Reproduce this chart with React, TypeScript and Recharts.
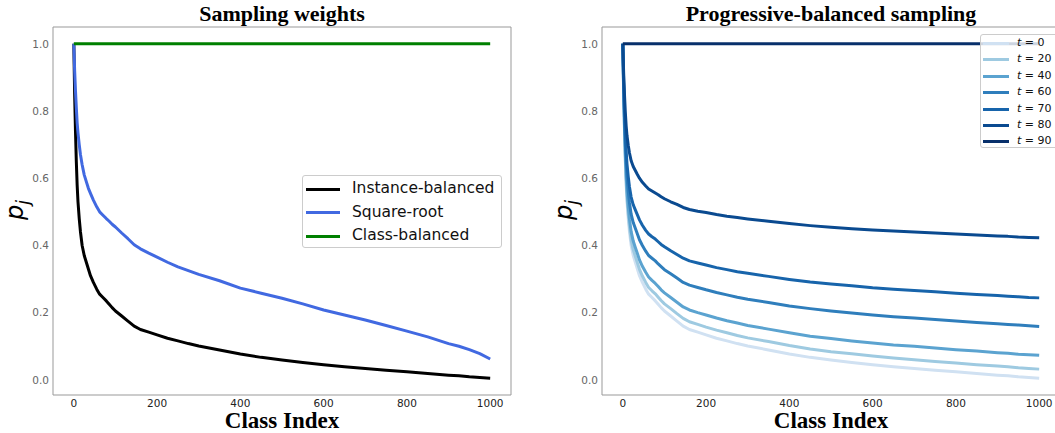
import React from 'react';
import { LineChart, Line, XAxis, YAxis, ReferenceArea } from 'recharts';

// class index samples (classes sorted by frequency)
const classIdx = [0, 2, 4, 6, 8, 10, 13, 16, 20, 25, 30, 35, 40, 47, 55, 62, 70, 78, 85, 92, 100, 115, 130, 145, 160, 180, 200, 225, 250, 275, 300, 350, 400, 450, 500, 550, 600, 650, 700, 750, 800, 850, 900, 925, 950, 975, 1000];

// left panel: sampling weights
const instanceBalanced = [1.0, 0.85, 0.74, 0.65, 0.58, 0.53, 0.48, 0.44, 0.4, 0.37, 0.35, 0.33, 0.31, 0.29, 0.27, 0.255, 0.245, 0.235, 0.225, 0.215, 0.205, 0.19, 0.175, 0.16, 0.15, 0.142, 0.134, 0.124, 0.116, 0.108, 0.101, 0.089, 0.077, 0.067, 0.059, 0.052, 0.045, 0.039, 0.034, 0.029, 0.024, 0.019, 0.014, 0.012, 0.009, 0.007, 0.005];
const squareRoot = [1.0, 0.92, 0.86, 0.81, 0.765, 0.735, 0.7, 0.67, 0.64, 0.61, 0.59, 0.57, 0.555, 0.535, 0.515, 0.5, 0.49, 0.48, 0.472, 0.463, 0.455, 0.437, 0.42, 0.402, 0.39, 0.377, 0.365, 0.35, 0.336, 0.325, 0.314, 0.295, 0.273, 0.258, 0.243, 0.226, 0.208, 0.193, 0.178, 0.162, 0.145, 0.128, 0.108, 0.1, 0.09, 0.078, 0.062];
const classBalanced = [1.0, 1.0, 1.0, 1.0, 1.0, 1.0, 1.0, 1.0, 1.0, 1.0, 1.0, 1.0, 1.0, 1.0, 1.0, 1.0, 1.0, 1.0, 1.0, 1.0, 1.0, 1.0, 1.0, 1.0, 1.0, 1.0, 1.0, 1.0, 1.0, 1.0, 1.0, 1.0, 1.0, 1.0, 1.0, 1.0, 1.0, 1.0, 1.0, 1.0, 1.0, 1.0, 1.0, 1.0, 1.0, 1.0, 1.0];

// right panel: progressive-balanced sampling at epoch t
const pbT0 = [1.0, 0.85, 0.74, 0.65, 0.58, 0.53, 0.48, 0.44, 0.4, 0.37, 0.35, 0.33, 0.31, 0.29, 0.27, 0.255, 0.245, 0.235, 0.225, 0.215, 0.205, 0.19, 0.175, 0.16, 0.15, 0.142, 0.134, 0.124, 0.116, 0.108, 0.101, 0.089, 0.077, 0.067, 0.059, 0.052, 0.045, 0.039, 0.034, 0.029, 0.024, 0.019, 0.014, 0.012, 0.009, 0.007, 0.005];
const pbT20 = [1.0, 0.854, 0.747, 0.659, 0.591, 0.543, 0.494, 0.455, 0.416, 0.387, 0.368, 0.348, 0.329, 0.309, 0.29, 0.275, 0.265, 0.256, 0.246, 0.236, 0.226, 0.212, 0.197, 0.183, 0.173, 0.165, 0.157, 0.148, 0.14, 0.132, 0.125, 0.114, 0.102, 0.092, 0.084, 0.078, 0.071, 0.065, 0.06, 0.055, 0.05, 0.045, 0.041, 0.039, 0.036, 0.034, 0.032];
const pbT40 = [1.0, 0.86, 0.758, 0.674, 0.609, 0.562, 0.515, 0.478, 0.441, 0.413, 0.394, 0.376, 0.357, 0.338, 0.32, 0.306, 0.296, 0.287, 0.278, 0.268, 0.259, 0.245, 0.231, 0.217, 0.208, 0.2, 0.193, 0.184, 0.176, 0.169, 0.162, 0.151, 0.14, 0.13, 0.123, 0.116, 0.11, 0.104, 0.1, 0.095, 0.09, 0.086, 0.081, 0.079, 0.076, 0.075, 0.073];
const pbT60 = [1.0, 0.873, 0.78, 0.704, 0.645, 0.603, 0.561, 0.527, 0.493, 0.468, 0.451, 0.434, 0.417, 0.4, 0.383, 0.37, 0.362, 0.354, 0.345, 0.337, 0.328, 0.316, 0.303, 0.29, 0.282, 0.275, 0.268, 0.26, 0.253, 0.246, 0.24, 0.23, 0.22, 0.212, 0.205, 0.199, 0.193, 0.188, 0.184, 0.18, 0.175, 0.171, 0.167, 0.165, 0.163, 0.161, 0.159];
const pbT70 = [1.0, 0.886, 0.802, 0.734, 0.681, 0.643, 0.605, 0.574, 0.544, 0.521, 0.506, 0.491, 0.476, 0.46, 0.445, 0.434, 0.426, 0.419, 0.411, 0.403, 0.396, 0.384, 0.373, 0.362, 0.354, 0.348, 0.342, 0.334, 0.328, 0.322, 0.317, 0.308, 0.299, 0.291, 0.285, 0.28, 0.274, 0.27, 0.266, 0.262, 0.258, 0.254, 0.251, 0.249, 0.247, 0.245, 0.244];
const pbT80 = [1.0, 0.913, 0.849, 0.797, 0.756, 0.727, 0.698, 0.675, 0.652, 0.635, 0.623, 0.611, 0.6, 0.588, 0.577, 0.568, 0.562, 0.556, 0.551, 0.545, 0.539, 0.53, 0.522, 0.513, 0.507, 0.502, 0.498, 0.492, 0.487, 0.483, 0.479, 0.472, 0.465, 0.459, 0.454, 0.45, 0.446, 0.443, 0.44, 0.437, 0.434, 0.431, 0.428, 0.427, 0.425, 0.424, 0.423];
const pbT90 = [1.0, 1.0, 1.0, 1.0, 1.0, 1.0, 1.0, 1.0, 1.0, 1.0, 1.0, 1.0, 1.0, 1.0, 1.0, 1.0, 1.0, 1.0, 1.0, 1.0, 1.0, 1.0, 1.0, 1.0, 1.0, 1.0, 1.0, 1.0, 1.0, 1.0, 1.0, 1.0, 1.0, 1.0, 1.0, 1.0, 1.0, 1.0, 1.0, 1.0, 1.0, 1.0, 1.0, 1.0, 1.0, 1.0, 1.0];

const epochs = ['0', '20', '40', '60', '70', '80', '90'];
const epochSeries = [pbT0, pbT20, pbT40, pbT60, pbT70, pbT80, pbT90];
const epochColors = ['#d0e1f2', '#9ecae1', '#5ba3d0', '#2f7ebc', '#1764ab', '#0a4a90', '#08306b'];

const leftNames = ['Instance-balanced', 'Square-root', 'Class-balanced'];
const leftColors = ['#000000', '#4169e1', '#008000'];

const xTicks = [0, 200, 400, 600, 800, 1000];
const yTicks = [0, 0.2, 0.4, 0.6, 0.8, 1.0];

const leftData = classIdx.map((x, i) => ({
  idx: x,
  ib: instanceBalanced[i],
  sr: squareRoot[i],
  cb: classBalanced[i],
}));

const rightData = classIdx.map((x, i) => {
  const row: any = { idx: x };
  epochs.forEach((t, k) => {
    row['t' + t] = epochSeries[k][i];
  });
  return row;
});

const X_DOMAIN = [-50, 1050];
const Y_DOMAIN = [-0.045, 1.05];
const FRAME = '#999';

const serif = '"Liberation Serif", "Times New Roman", serif';
const sans = '"DejaVu Sans", sans-serif';

const Axes = () => (
  <>
    <XAxis
      dataKey="idx"
      type="number"
      domain={X_DOMAIN}
      ticks={xTicks}
      allowDataOverflow
      axisLine={false}
      tickLine={false}
      tickSize={3}
      tickMargin={2}
      height={30}
      tick={{ fill: '#222', fontSize: 10.5, fontFamily: sans }}
    />
    <YAxis
      type="number"
      domain={Y_DOMAIN}
      ticks={yTicks}
      allowDataOverflow
      axisLine={false}
      tickLine={false}
      tickSize={2}
      tickMargin={2}
      width={53}
      tickFormatter={(v: number) => v.toFixed(1)}
      tick={{ fill: '#666', fontSize: 10.5, fontFamily: sans }}
    />
  </>
);

const Title = ({ left, width, text }: { left: number; width: number; text: string }) => (
  <div
    style={{
      position: 'absolute', left, top: 1, width, textAlign: 'center',
      fontFamily: serif, fontWeight: 'bold', fontSize: 22, lineHeight: '26px', color: '#000',
    }}
  >
    {text}
  </div>
);

const XLabel = ({ left, width }: { left: number; width: number }) => (
  <div
    style={{
      position: 'absolute', left, top: 408, width, textAlign: 'center',
      fontFamily: serif, fontWeight: 'bold', fontSize: 23, lineHeight: '26px', color: '#000',
    }}
  >
    Class Index
  </div>
);

const YLabel = ({ x }: { x: number }) => (
  <div
    style={{
      position: 'absolute', left: x, top: 210, transform: 'translate(-50%, -50%) rotate(-90deg)',
      fontFamily: sans, fontStyle: 'italic', fontSize: 24, whiteSpace: 'nowrap', color: '#000',
    }}
  >
    p<sub style={{ fontSize: 17, verticalAlign: '-0.3em' }}>j</sub>
  </div>
);

export default function App() {
  return (
    <div style={{ position: 'absolute', left: 0, top: 0, width: 1055, height: 433, overflow: 'hidden', background: '#fff' }}>
      {/* left panel */}
      <div style={{ position: 'absolute', left: 0, top: 0 }}>
        <LineChart width={520} height={433} data={leftData} margin={{ top: 27, right: 9, bottom: 8, left: 0 }}>
          {Axes()}
          <ReferenceArea x1={X_DOMAIN[0]} x2={X_DOMAIN[1]} y1={Y_DOMAIN[0]} y2={Y_DOMAIN[1]} fill="none" stroke={FRAME} strokeWidth={1} ifOverflow="visible" />
          <Line dataKey="ib" type="linear" stroke={leftColors[0]} strokeWidth={3} dot={false} isAnimationActive={false} strokeLinejoin="round" />
          <Line dataKey="sr" type="linear" stroke={leftColors[1]} strokeWidth={3} dot={false} isAnimationActive={false} strokeLinejoin="round" />
          <Line dataKey="cb" type="linear" stroke={leftColors[2]} strokeWidth={3} dot={false} isAnimationActive={false} strokeLinejoin="round" />
        </LineChart>
      </div>

      {/* right panel */}
      <div style={{ position: 'absolute', left: 549, top: 0 }}>
        <LineChart width={520} height={433} data={rightData} margin={{ top: 27, right: 9, bottom: 8, left: 0 }}>
          {Axes()}
          <ReferenceArea x1={X_DOMAIN[0]} x2={X_DOMAIN[1]} y1={Y_DOMAIN[0]} y2={Y_DOMAIN[1]} fill="none" stroke={FRAME} strokeWidth={1} ifOverflow="visible" />
          {epochs.map((t, k) => (
            <Line
              key={t}
              dataKey={'t' + t}
              type="linear"
              stroke={epochColors[k]}
              strokeWidth={3}
              dot={false}
              isAnimationActive={false}
              strokeLinejoin="round"
            />
          ))}
        </LineChart>
      </div>

      <Title left={53} width={458} text="Sampling weights" />
      <Title left={602} width={458} text="Progressive-balanced sampling" />
      <XLabel left={53} width={458} />
      <XLabel left={602} width={458} />
      <YLabel x={17} />
      <YLabel x={566} />

      {/* left legend */}
      <div
        style={{
          position: 'absolute', left: 302, top: 175, width: 200, height: 73, boxSizing: 'border-box',
          border: '1px solid #ccc', borderRadius: 3, background: 'rgba(255,255,255,0.8)', paddingTop: 1,
        }}
      >
        {leftNames.map((name, i) => (
          <div key={name} style={{ position: 'relative', height: 23.5 }}>
            <div style={{ position: 'absolute', left: 3, top: 10.5, width: 34, height: 3, background: leftColors[i] }} />
            <div style={{ position: 'absolute', left: 49, top: 0, lineHeight: '23.5px', fontFamily: sans, fontSize: 15.5, color: '#111', whiteSpace: 'nowrap' }}>
              {name}
            </div>
          </div>
        ))}
      </div>

      {/* right legend */}
      <div
        style={{
          position: 'absolute', left: 980, top: 34, width: 90, height: 114, boxSizing: 'border-box',
          border: '1px solid #ccc', borderRadius: 3, background: 'rgba(255,255,255,0.8)', paddingTop: 0,
        }}
      >
        {epochs.map((t, i) => (
          <div key={t} style={{ position: 'relative', height: 16.4 }}>
            <div style={{ position: 'absolute', left: 2, top: 7, width: 26, height: 3, background: epochColors[i] }} />
            <div style={{ position: 'absolute', left: 36, top: 0, lineHeight: '16.4px', fontFamily: sans, fontSize: 11, color: '#111', whiteSpace: 'nowrap' }}>
              <i>t</i>{' = '}{t}
            </div>
          </div>
        ))}
      </div>
    </div>
  );
}
